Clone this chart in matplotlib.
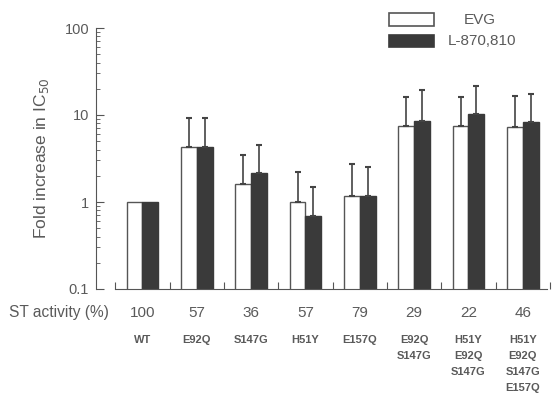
import matplotlib.pyplot as plt
from matplotlib.patches import Rectangle
from matplotlib.transforms import blended_transform_factory
import numpy as np

plt.rcParams['font.family'] = ['Liberation Sans', 'DejaVu Sans']

# Data (fold increase in IC50, upper error bar end).
st_activity = ["100", "57", "36", "57", "79", "29", "22", "46"]
mutants = ["WT", "E92Q", "S147G", "H51Y", "E157Q",
           "E92Q\nS147G", "H51Y\nE92Q\nS147G", "H51Y\nE92Q\nS147G\nE157Q"]
evg = [1.0, 4.3, 1.6, 1.0, 1.17, 7.5, 7.5, 7.3]
evg_top = [1.0, 9.2, 3.5, 2.2, 2.7, 16.1, 16.0, 16.5]
l870 = [1.0, 4.3, 2.15, 0.69, 1.17, 8.5, 10.3, 8.3]
l870_top = [1.0, 9.3, 4.5, 1.5, 2.5, 19.4, 21.5, 17.4]

text_col = "#5a5a5a"
dark = "#3a3a3a"

fig = plt.figure(figsize=(5.53, 3.99), dpi=100)
ax = fig.add_axes([96/553, 110/399, 454/553, 261/399])

x = np.arange(len(mutants))
w = 0.29
ax.bar(x - w, evg, w, color="white", edgecolor="#555555", linewidth=1.0,
       align="edge")
ax.bar(x, l870, w, color=dark, edgecolor=dark, linewidth=1.0,
       align="edge")

# one-sided error bars (upward only), skip WT
for xs, v, top in [(x - w/2, evg, evg_top), (x + w/2, l870, l870_top)]:
    v = np.array(v)
    top = np.array(top)
    up = top - v
    mask = up > 0
    ax.errorbar(xs[mask], v[mask], yerr=[np.zeros(mask.sum()), up[mask]],
                fmt="none", ecolor="#444444", elinewidth=1.2, capsize=2.5,
                capthick=1.5)

ax.set_yscale("log")
ax.set_ylim(0.1, 100)
ax.set_xlim(-0.855, 7.4)

for s in ["top", "right"]:
    ax.spines[s].set_visible(False)
ax.spines["left"].set_color("#555555")
ax.spines["bottom"].set_color("#555555")
ax.spines["bottom"].set_bounds(-0.5, 7.45)

ax.set_yticks([0.1, 1, 10, 100])
ax.set_yticklabels(["0.1", "1", "10", "100"])
ax.tick_params(axis="y", which="major", direction="in", length=6,
               color="#555555", labelsize=10.5, labelcolor=text_col, pad=5)
ax.tick_params(axis="y", which="minor", direction="in", length=3,
               color="#555555")
ax.set_xticks(np.arange(len(mutants) + 1) - 0.5)
ax.set_xticklabels([])
ax.tick_params(axis="x", which="major", direction="in", length=5,
               color="#555555")
ax.tick_params(axis="x", which="minor", bottom=False)

ax.set_ylabel("Fold increase in IC$_{50}$", fontsize=12.5, color=text_col,
              labelpad=10)

# bottom annotation rows
trans = blended_transform_factory(ax.transData, fig.transFigure)
fig.text(9/553, 1 - 313/399, "ST activity (%)", fontsize=11.2,
         color=text_col, va="center", ha="left")
for i, (st, m) in enumerate(zip(st_activity, mutants)):
    ax.text(i, 1 - 313/399, st, transform=trans, fontsize=11,
            color=text_col, ha="center", va="center")
    ax.text(i, 1 - 335/399, m, transform=trans, fontsize=8,
            fontweight="bold", color=text_col, ha="center", va="top",
            linespacing=1.75)

# legend drawn by hand
fig.add_artist(Rectangle((389/553, 1 - 26/399), 45/553, 13/399,
                         transform=fig.transFigure, facecolor="white",
                         edgecolor="#555555", linewidth=1.2))
fig.add_artist(Rectangle((389/553, 1 - 47/399), 45/553, 12/399,
                         transform=fig.transFigure, facecolor=dark,
                         edgecolor=dark, linewidth=1.2))
fig.text(480/553, 1 - 20/399, "EVG", fontsize=11, color=text_col,
         ha="center", va="center")
fig.text(448/553, 1 - 41/399, "L-870,810", fontsize=11, color=text_col,
         ha="left", va="center")

fig.savefig("out.png", dpi=100)
